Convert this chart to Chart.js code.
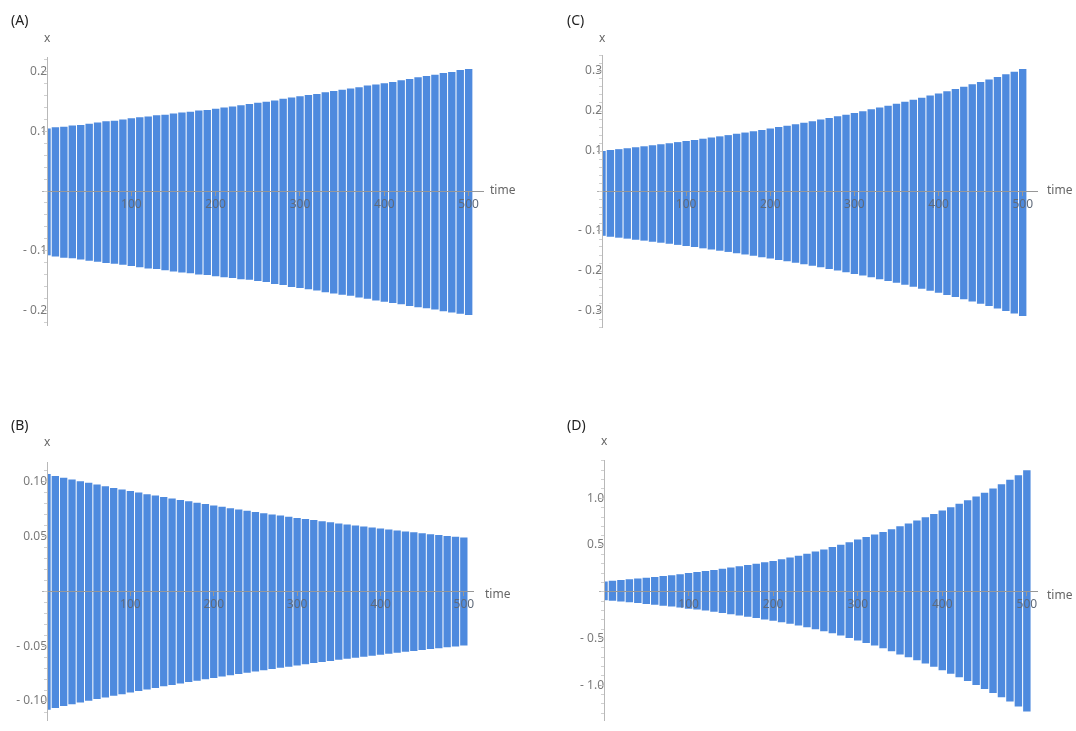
<!DOCTYPE html>
<html>
<head>
<meta charset="utf-8">
<script src="https://cdn.jsdelivr.net/npm/chart.js@4.4.1/dist/chart.umd.min.js"></script>
<style>
  html,body{margin:0;padding:0;background:#fff;}
  body{width:1076px;height:731px;position:relative;overflow:hidden;font-family:"Noto Sans",sans-serif;}
  canvas{position:absolute;}
  .lbl{position:absolute;color:#666;font-size:12px;line-height:14px;white-space:nowrap;}
  .pan{position:absolute;color:#222;font-size:14px;line-height:16px;}
</style>
</head>
<body>
<canvas id="cA" width="538" height="340" style="left:0;top:0"></canvas>
<canvas id="cC" width="521" height="340" style="left:555px;top:0"></canvas>
<canvas id="cB" width="538" height="331" style="left:0;top:400px"></canvas>
<canvas id="cD" width="521" height="331" style="left:555px;top:400px"></canvas>

<div class="pan" style="left:11px;top:12px">(A)</div>
<div class="lbl" style="left:44px;top:31px">x</div>
<div class="lbl" style="left:490px;top:183px">time</div>

<div class="pan" style="left:567px;top:12px">(C)</div>
<div class="lbl" style="left:599px;top:31px">x</div>
<div class="lbl" style="left:1047px;top:183px">time</div>

<div class="pan" style="left:11px;top:417px">(B)</div>
<div class="lbl" style="left:44px;top:435px">x</div>
<div class="lbl" style="left:485px;top:587px">time</div>

<div class="pan" style="left:567px;top:417px">(D)</div>
<div class="lbl" style="left:601px;top:434px">x</div>
<div class="lbl" style="left:1047px;top:588px">time</div>

<script>
// sample times (every 10 time units)
const times = [0,10,20,30,40,50,60,70,80,90,100,110,120,130,140,150,160,170,180,190,200,
  210,220,230,240,250,260,270,280,290,300,310,320,330,340,350,360,370,380,390,400,
  410,420,430,440,450,460,470,480,490,500];

// (A) envelope of oscillation
const upperA = [0.105,0.107,0.108,0.110,0.111,0.113,0.115,0.117,0.118,0.120,0.122,0.124,0.125,0.127,0.128,0.130,0.132,0.133,0.135,0.136,0.138,
  0.140,0.142,0.144,0.146,0.148,0.150,0.152,0.155,0.157,0.159,0.161,0.163,0.166,0.168,0.170,0.172,0.174,0.177,0.179,0.181,
  0.183,0.186,0.188,0.191,0.193,0.195,0.198,0.200,0.203,0.205];
const lowerA = [-0.108,-0.110,-0.112,-0.113,-0.115,-0.117,-0.119,-0.121,-0.122,-0.124,-0.126,-0.128,-0.130,-0.131,-0.133,-0.135,-0.137,-0.138,-0.140,-0.141,-0.143,
  -0.145,-0.146,-0.148,-0.149,-0.151,-0.153,-0.156,-0.158,-0.161,-0.163,-0.165,-0.167,-0.170,-0.172,-0.174,-0.176,-0.179,-0.181,-0.184,-0.186,
  -0.188,-0.190,-0.193,-0.195,-0.197,-0.199,-0.202,-0.204,-0.206,-0.208];

// (B)
const upperB = [0.1070,0.1053,0.1037,0.1021,0.1005,0.0990,0.0974,0.0959,0.0944,0.0930,0.0915,0.0901,0.0887,0.0874,0.0860,0.0847,0.0834,0.0821,0.0808,0.0796,0.0783,
  0.0771,0.0759,0.0747,0.0736,0.0724,0.0713,0.0702,0.0691,0.0681,0.0670,0.0660,0.0650,0.0640,0.0630,0.0620,0.0610,0.0601,0.0592,0.0582,0.0573,
  0.0565,0.0556,0.0547,0.0539,0.0530,0.0522,0.0514,0.0506,0.0498,0.0491];
const lowerB = [-0.1080,-0.1063,-0.1046,-0.1030,-0.1014,-0.0998,-0.0982,-0.0967,-0.0952,-0.0937,-0.0922,-0.0908,-0.0894,-0.0880,-0.0866,-0.0853,-0.0840,-0.0827,-0.0814,-0.0801,-0.0789,
  -0.0777,-0.0765,-0.0753,-0.0741,-0.0730,-0.0718,-0.0707,-0.0696,-0.0686,-0.0675,-0.0665,-0.0654,-0.0644,-0.0634,-0.0624,-0.0615,-0.0605,-0.0596,-0.0587,-0.0578,
  -0.0569,-0.0560,-0.0551,-0.0543,-0.0534,-0.0526,-0.0518,-0.0510,-0.0502,-0.0494];

// (C)
const upperC = [0.1000,0.1023,0.1046,0.1069,0.1093,0.1118,0.1143,0.1169,0.1195,0.1222,0.1250,0.1278,0.1307,0.1336,0.1366,0.1397,0.1429,0.1461,0.1494,0.1528,0.1562,
  0.1597,0.1633,0.1670,0.1708,0.1746,0.1786,0.1826,0.1867,0.1909,0.1952,0.1996,0.2041,0.2087,0.2134,0.2183,0.2232,0.2282,0.2334,0.2386,0.2440,
  0.2495,0.2551,0.2609,0.2668,0.2728,0.2789,0.2852,0.2916,0.2982,0.3049];
const lowerC = [-0.1120,-0.1143,-0.1167,-0.1191,-0.1216,-0.1241,-0.1267,-0.1293,-0.1320,-0.1347,-0.1375,-0.1403,-0.1433,-0.1462,-0.1493,-0.1523,-0.1555,-0.1587,-0.1620,-0.1654,-0.1688,
  -0.1723,-0.1759,-0.1795,-0.1832,-0.1870,-0.1909,-0.1949,-0.1989,-0.2030,-0.2072,-0.2115,-0.2159,-0.2204,-0.2250,-0.2296,-0.2344,-0.2392,-0.2442,-0.2493,-0.2544,
  -0.2597,-0.2651,-0.2706,-0.2762,-0.2819,-0.2878,-0.2937,-0.2998,-0.3060,-0.3124];

// (D)
const upperD = [0.110,0.117,0.125,0.133,0.141,0.150,0.159,0.168,0.178,0.189,0.200,0.211,0.222,0.234,0.247,0.260,0.273,0.286,0.300,0.315,0.330,
  0.348,0.367,0.387,0.408,0.430,0.453,0.478,0.504,0.531,0.560,0.586,0.612,0.640,0.669,0.700,0.731,0.763,0.797,0.833,0.870,
  0.905,0.941,0.979,1.019,1.060,1.104,1.150,1.198,1.248,1.300];
const lowerD = [-0.090,-0.097,-0.104,-0.112,-0.121,-0.130,-0.138,-0.148,-0.158,-0.169,-0.180,-0.190,-0.201,-0.213,-0.226,-0.240,-0.253,-0.266,-0.280,-0.295,-0.310,
  -0.326,-0.342,-0.361,-0.380,-0.400,-0.421,-0.443,-0.468,-0.493,-0.520,-0.547,-0.574,-0.605,-0.636,-0.670,-0.701,-0.733,-0.767,-0.803,-0.840,
  -0.877,-0.915,-0.955,-0.997,-1.040,-1.083,-1.127,-1.174,-1.226,-1.280];

const xTickValues = [100,200,300,400,500];

const BAR = 'rgb(78,138,222)';
const AXIS = '#979797';
const TICKTXT = '#7a7a7a';
const XTICKTXT = '#5f6a7a';
const FONT = {family:'"Noto Sans", sans-serif', size:12};

function fmt(v, dec){
  if (Math.abs(v) < 1e-9) return '';
  const s = Math.abs(v).toFixed(dec);
  return v < 0 ? '- ' + s : s;
}

function makePanel(id, upper, lower, o){
  const data = times.map((t,i)=>({x:t, y:[lower[i], upper[i]]}));
  new Chart(document.getElementById(id), {
    type:'bar',
    data:{datasets:[{data:data, backgroundColor:BAR, borderWidth:0,
      barPercentage:0.88, categoryPercentage:1.0}]},
    options:{
      responsive:false, animation:false, devicePixelRatio:1,
      layout:{padding:o.pad},
      plugins:{legend:{display:false}, tooltip:{enabled:false}},
      scales:{
        x:{type:'linear', position:{y:0}, min:0, max:o.xMax, offset:false,
          afterBuildTicks:(s)=>{ s.ticks = xTickValues.map(v=>({value:v})); },
          ticks:{z:2, color:XTICKTXT, font:FONT, padding:2, maxRotation:0, autoSkip:false,
            callback:(v)=>String(v)},
          grid:{z:2, display:true, drawOnChartArea:false, offset:false, tickLength:4, color:AXIS},
          border:{z:2, display:true, color:AXIS, width:1}},
        y:{type:'linear', position:{x:0}, min:o.yMin, max:o.yMax,
          ticks:{z:2, stepSize:o.yStep, includeBounds:false, color:TICKTXT, font:FONT, padding:3,
            autoSkip:false, callback:(v)=>fmt(v, o.dec)},
          grid:{z:2, display:true, drawOnChartArea:false, tickLength:5, color:'#b0b0b0'},
          border:{z:2, display:true, color:'#b8b8b8', width:1}},
        ym:{type:'linear', position:{x:0}, min:o.yMin, max:o.yMax,
          ticks:{display:false, stepSize:o.yMinor, includeBounds:false},
          grid:{z:2, display:true, drawOnChartArea:false, tickLength:3, color:'#d0d0d0'},
          border:{display:false}}
      }
    }
  });
}

makePanel('cA', upperA, lowerA, {xMax:517, yMin:-0.225, yMax:0.225, yStep:0.1, yMinor:0.02, dec:1,
  pad:{left:47, top:57, right:55, bottom:15}});
makePanel('cC', upperC, lowerC, {xMax:517, yMin:-0.34, yMax:0.34, yStep:0.1, yMinor:0.02, dec:1,
  pad:{left:47, top:55, right:39, bottom:13}});
makePanel('cB', upperB, lowerB, {xMax:511, yMin:-0.118, yMax:0.118, yStep:0.05, yMinor:0.01, dec:2,
  pad:{left:47, top:62, right:65, bottom:3}});
makePanel('cD', upperD, lowerD, {xMax:512, yMin:-1.38, yMax:1.41, yStep:0.5, yMinor:0.1, dec:1,
  pad:{left:49, top:60, right:39, bottom:0}});
</script>
</body>
</html>
